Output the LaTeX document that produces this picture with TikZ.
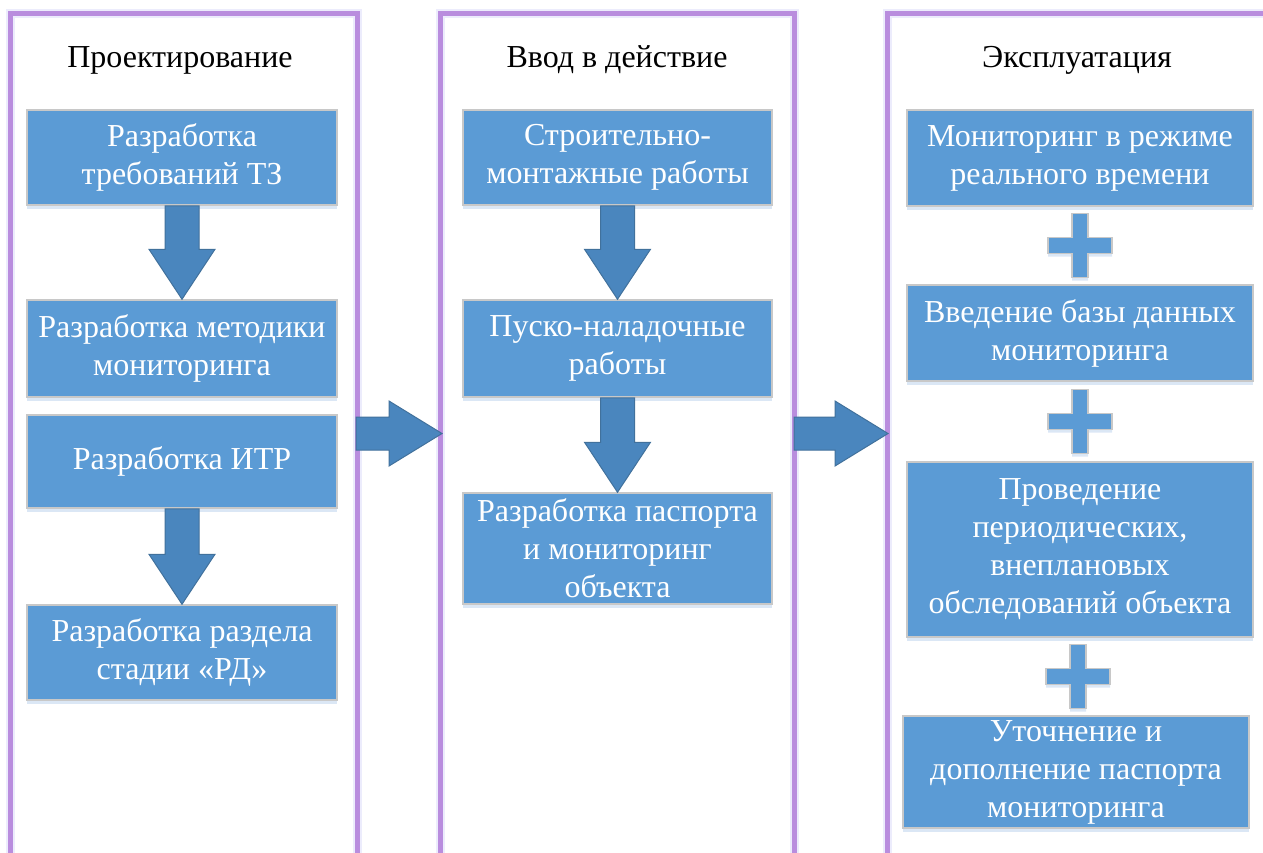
\documentclass[tikz,border=0pt]{standalone}
\usepackage{fontspec}
\setmainfont{Liberation Serif}
\usetikzlibrary{calc,shadows}
\definecolor{boxblue}{RGB}{91,155,213}
\definecolor{boxedge}{RGB}{200,200,200}
\definecolor{arrowfill}{RGB}{74,134,190}
\definecolor{arrowedge}{RGB}{65,113,156}
\definecolor{colpurple}{RGB}{185,141,222}
\definecolor{colglow}{RGB}{236,236,252}
\definecolor{shadowblue}{RGB}{205,222,242}
\newcommand\downblock[2]{\draw[blockarrow] let \p1=(#1.south), \p2=(#2.north) in
  (\x1-17pt,\y1) -- (\x1+17pt,\y1) -- (\x1+17pt,\y2+50pt) -- (\x1+33pt,\y2+50pt) -- (\x1,\y2)
  -- (\x1-33pt,\y2+50pt) -- (\x1-17pt,\y2+50pt) -- cycle;}
\newcommand\rightblock[2]{\draw[blockarrow] let \p1=(#1), \p2=(#2) in
  (\x1,\y1+16.5pt) -- (\x2-53pt,\y1+16.5pt) -- (\x2-53pt,\y1+32.5pt) -- (\x2,\y1)
  -- (\x2-53pt,\y1-32.5pt) -- (\x2-53pt,\y1-16.5pt) -- (\x1,\y1-16.5pt) -- cycle;}
\newcommand\plusat[1]{\draw[plussign] (#1) ++(-8pt,-32pt) -- ++(16pt,0) -- ++(0,24pt) -- ++(24pt,0)
  -- ++(0,16pt) -- ++(-24pt,0) -- ++(0,24pt) -- ++(-16pt,0) -- ++(0,-24pt) -- ++(-24pt,0)
  -- ++(0,-16pt) -- ++(24pt,0) -- cycle;}
\begin{document}
\begin{tikzpicture}[x=1pt,y=-1pt,
  stagebox/.style={draw=boxedge, line width=1.5pt, fill=boxblue, text=white, align=center,
    font=\fontsize{32}{38}\selectfont, inner sep=0pt,
    drop shadow={shadow xshift=0pt, shadow yshift=-4pt, fill=shadowblue, opacity=0.7}},
  title/.style={font=\fontsize{32}{38}\selectfont, text=black, anchor=base},
  column/.style={draw=colpurple, line width=5pt},
  columnglow/.style={draw=colglow, line width=9pt},
  blockarrow/.style={fill=arrowfill, draw=arrowedge, line width=1pt},
  plussign/.style={fill=boxblue, draw=boxedge, line width=1.5pt,
    drop shadow={shadow xshift=0pt, shadow yshift=-3pt, fill=shadowblue, opacity=0.7}}]
\useasboundingbox (0,0) rectangle (1263,852);
\fill[white] (0,0) rectangle (1263,852);

% columns
\draw[columnglow] (10.5,900) -- (10.5,13.5) -- (357,13.5) -- (357,900);
\draw[columnglow] (440.5,900) -- (440.5,13.5) -- (794,13.5) -- (794,900);
\draw[columnglow] (887,900) -- (887,13.5) -- (1300,13.5);
\draw[column] (10.5,900) -- (10.5,13.5) -- (357,13.5) -- (357,900);
\draw[column] (440.5,900) -- (440.5,13.5) -- (794,13.5) -- (794,900);
\draw[column] (887,900) -- (887,13.5) -- (1300,13.5);

% titles
\node[title] (t1) at (180,67) {Проектирование};
\node[title] (t2) at (617,67) {Ввод в действие};
\node[title] (t3) at (1077,67) {Эксплуатация};

% column 1
\node[stagebox, minimum width=310pt, minimum height=95pt] (b1) at (182,157.5) {Разработка\\требований ТЗ};
\node[stagebox, minimum width=310pt, minimum height=97pt] (b2) at (182,348.5) {Разработка методики\\мониторинга};
\node[stagebox, minimum width=310pt, minimum height=93pt] (b3) at (182,461.5) {Разработка ИТР};
\node[stagebox, minimum width=310pt, minimum height=95pt] (b4) at (182,652.5) {Разработка раздела\\стадии «РД»};

% column 2
\node[stagebox, minimum width=309pt, minimum height=95pt] (c1) at (617.5,157.5) {Строительно-\\монтажные работы};
\node[stagebox, minimum width=309pt, minimum height=97pt] (c2) at (617.5,348.5) {Пуско-наладочные\\работы};
\node[stagebox, minimum width=309pt, minimum height=111pt] (c3) at (617.5,548.5) {Разработка паспорта\\и мониторинг\\объекта};

% column 3
\node[stagebox, minimum width=346pt, minimum height=96pt] (d1) at (1080,158) {Мониторинг в режиме\\реального времени};
\node[stagebox, minimum width=346pt, minimum height=96pt] (d2) at (1080,333) {Введение базы данных\\мониторинга};
\node[stagebox, minimum width=346pt, minimum height=175pt] (d3) at (1080,549.5) {Проведение\\периодических,\\внеплановых\\обследований объекта};
\node[stagebox, minimum width=346pt, minimum height=112pt] (d4) at (1076,772) {Уточнение и\\дополнение паспорта\\мониторинга};

% down arrows
\downblock{b1}{b2}
\downblock{b3}{b4}
\downblock{c1}{c2}
\downblock{c2}{c3}

% right arrows
\coordinate (r1s) at (356,433.5);
\coordinate (r1e) at (442,433.5);
\coordinate (r2s) at (794,433.5);
\coordinate (r2e) at (888,433.5);
\rightblock{r1s}{r1e}
\rightblock{r2s}{r2e}

% plus signs
\coordinate (p1) at ($(d1.south)!0.5!(d2.north)$);
\coordinate (p2) at ($(d2.south)!0.5!(d3.north)$);
\coordinate (p3) at ($(d3.south)!0.5!(d4.north)$);
\plusat{p1}
\plusat{p2}
\plusat{p3}
\end{tikzpicture}
\end{document}
